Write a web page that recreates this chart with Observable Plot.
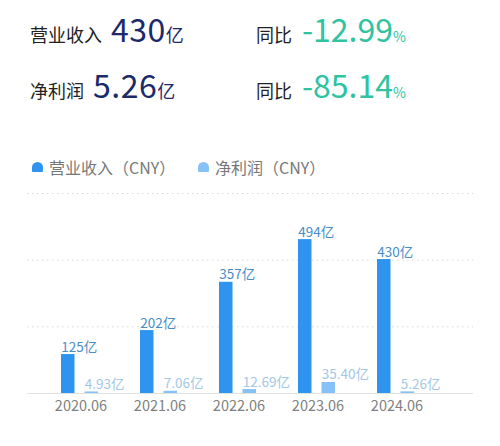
<!DOCTYPE html>
<html>
<head>
<meta charset="utf-8">
<script src="https://cdn.jsdelivr.net/npm/d3@7"></script>
<script src="https://cdn.jsdelivr.net/npm/@observablehq/plot@0.6"></script>
<style>
  body { margin: 0; background: #fff; font-family: "Noto Sans CJK SC", "Noto Sans", sans-serif; }
  #wrap { position: relative; width: 500px; height: 446px; overflow: hidden; }
  .row { position: absolute; display: flex; align-items: baseline; white-space: nowrap; }
  .lab { font-size: 18px; color: #222; }
  .big { font-size: 32px; color: #1b2a6b; margin-left: 9px; letter-spacing: 0.5px; }
  .unit { font-size: 18px; color: #1b2a6b; }
  .pct { font-size: 32px; color: #2fc3a0; margin-left: 10px; }
  .pu { font-size: 14px; color: #2fc3a0; }
  .leg { position: absolute; top: 155px; display: flex; align-items: center; font-size: 16px; color: #777; white-space: nowrap; }
  .sw { width: 11px; height: 10px; border-radius: 6px 6px 1px 1px; margin-right: 6px; }
  #chart { position: absolute; left: 0; top: 175px; }
</style>
</head>
<body>
<div id="wrap">
  <div class="row" style="left:30px; top:5px;"><span class="lab">营业收入</span><span class="big">430</span><span class="unit">亿</span></div>
  <div class="row" style="left:256px; top:5px;"><span class="lab">同比</span><span class="pct">-12.99</span><span class="pu">%</span></div>
  <div class="row" style="left:30px; top:61px;"><span class="lab">净利润</span><span class="big">5.26</span><span class="unit">亿</span></div>
  <div class="row" style="left:256px; top:61px;"><span class="lab">同比</span><span class="pct">-85.14</span><span class="pu">%</span></div>
  <div class="leg" style="left:32px;"><div class="sw" style="background:#2f93f0"></div>营业收入（CNY）</div>
  <div class="leg" style="left:198px;"><div class="sw" style="background:#86c1f7"></div>净利润（CNY）</div>
  <div id="chart"></div>
</div>
<script>
const years = ["2020.06", "2021.06", "2022.06", "2023.06", "2024.06"];
const revenue = [125, 202, 357, 494, 430];
const profit = [4.93, 7.06, 12.69, 35.40, 5.26];
const gridTicks = [214, 428, 642];

const rows = years.map((y, i) => ({year: y, revenue: revenue[i], profit: profit[i]}));

const chart = Plot.plot({
  width: 500,
  height: 255,
  marginLeft: 27,
  marginRight: 27,
  marginTop: 18,
  marginBottom: 37,
  style: {fontFamily: "Noto Sans CJK SC, Noto Sans, sans-serif", background: "transparent"},
  x: {domain: years, range: [40, 437.5], padding: 0, axis: null},
  y: {domain: [0, 642], axis: null},
  marks: [
    Plot.ruleY(gridTicks, {stroke: "#d8d8d8", strokeDasharray: "1.5,3.5", strokeWidth: 1}),
    Plot.barY(rows, {x: "year", y: "revenue", fill: "#2f93f0", insetLeft: 20, insetRight: 45.5}),
    Plot.barY(rows, {x: "year", y: "profit", fill: "#86c1f7", insetLeft: 43.5, insetRight: 22}),
    Plot.ruleY([0], {stroke: "#e2e2e2", strokeWidth: 1.2}),
    Plot.text(rows, {x: "year", y: "revenue", text: d => d.revenue + "亿", dx: -19.75, dy: -3, textAnchor: "start", lineAnchor: "bottom", fill: "#4a8dc6", fontSize: 13.5}),
    Plot.text(rows, {x: "year", y: "profit", text: d => d.profit.toFixed(2) + "亿", dx: 3.75, dy: -3, textAnchor: "start", lineAnchor: "bottom", fill: "#a4c7e4", fontSize: 13.5}),
    Plot.axisX({tickSize: 0, tickPadding: 7, fontSize: 14.5, fill: "#808080", label: null})
  ]
});
document.getElementById("chart").appendChild(chart);
</script>
</body>
</html>
